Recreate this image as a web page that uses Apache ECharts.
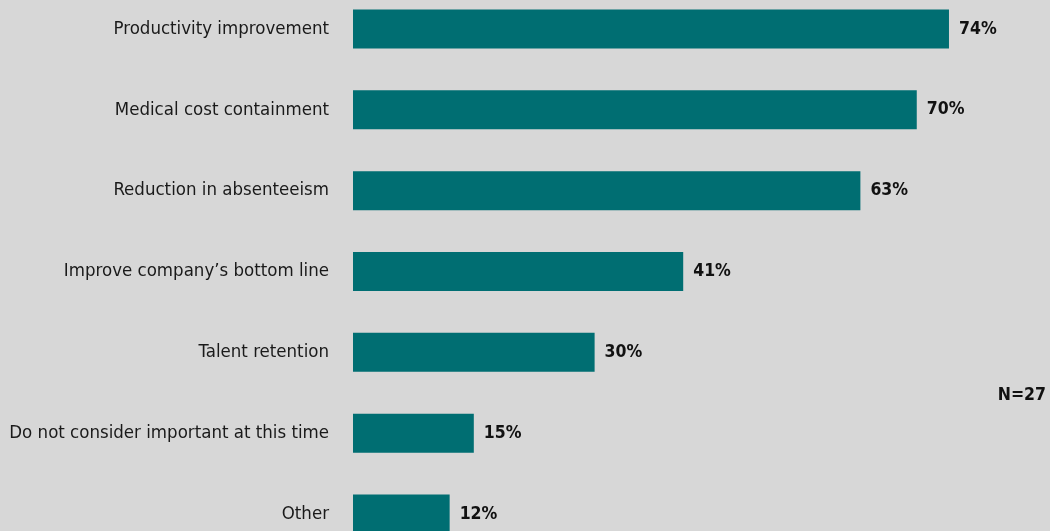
<!DOCTYPE html>
<html>
<head>
<meta charset="utf-8">
<script src="https://cdn.jsdelivr.net/npm/echarts@6/dist/echarts.min.js"></script>
<style>
  html, body { margin: 0; padding: 0; background: #d7d7d7; }
  #main { width: 1050px; height: 531px; }
</style>
</head>
<body>
<div id="main"></div>
<script>
var categories = [
    'Productivity improvement',
    'Medical cost containment',
    'Reduction in absenteeism',
    'Improve company\u2019s bottom line',
    'Talent retention',
    'Do not consider important at this time',
    'Other'
];
var values = [74, 70, 63, 41, 30, 15, 12];
var sampleNote = 'N=27';

var chart = echarts.init(document.getElementById('main'));
var font = '"DejaVu Sans Condensed", "Liberation Sans Narrow", sans-serif';

var option = {
    backgroundColor: '#d7d7d7',
    animation: false,
    grid: { left: 353, top: -11.4, width: 644.3, height: 565.8, outerBoundsMode: 'none' },
    xAxis: {
        type: 'value',
        min: 0,
        max: 80,
        show: false
    },
    yAxis: {
        type: 'category',
        data: categories,
        inverse: true,
        axisLine: { show: false },
        axisTick: { show: false },
        axisLabel: {
            margin: 24,
            color: '#1a1a1a',
            fontFamily: font,
            fontSize: 18.5
        }
    },
    graphic: [{
        type: 'text',
        right: 4,
        top: 386,
        style: {
            text: sampleNote,
            fill: '#111',
            font: 'bold 17.5px ' + font
        }
    }],
    series: [{
        type: 'bar',
        data: values,
        barWidth: 39,
        itemStyle: { color: '#006e72' },
        label: {
            show: true,
            position: 'right',
            distance: 10,
            formatter: '{c}%',
            color: '#111',
            fontFamily: font,
            fontWeight: 'bold',
            fontSize: 17.5
        }
    }]
};
chart.setOption(option);
</script>
</body>
</html>
